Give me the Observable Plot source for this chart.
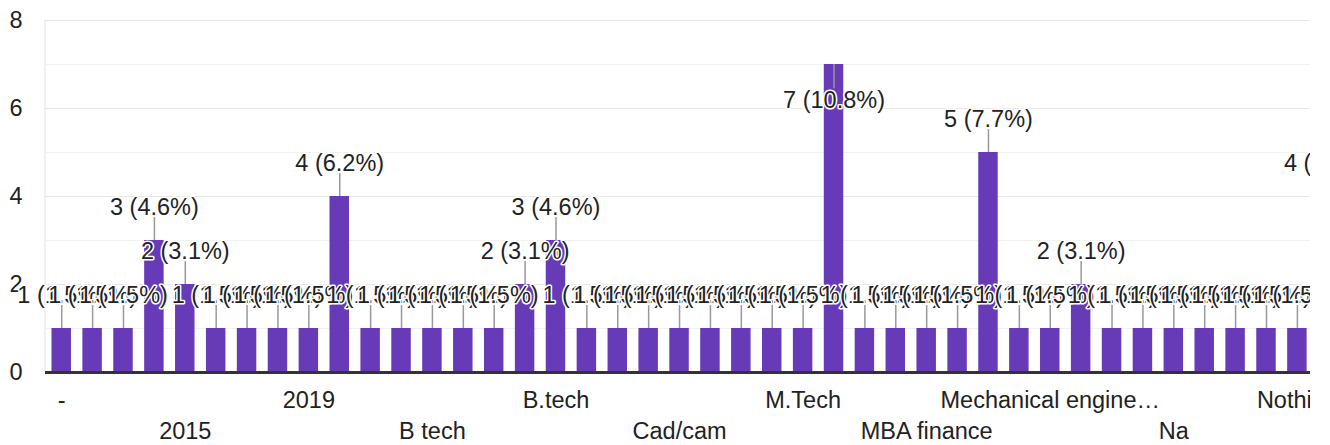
<!DOCTYPE html>
<html>
<head>
<meta charset="utf-8">
<script src="https://cdn.jsdelivr.net/npm/d3@7"></script>
<script src="https://cdn.jsdelivr.net/npm/@observablehq/plot@0.6"></script>
<style>
  html, body { margin: 0; padding: 0; background: #fff; }
  #chart { width: 1330px; height: 445px; overflow: hidden; }
</style>
</head>
<body>
<div id="chart"></div>
<script>
// Response categories (sorted as in the chart) and their counts
const categories = [
  "-", ".", "1", "2014", "2015", "2016", "2017", "2018", "2019", "2020",
  "2021", "ANSYS", "B tech", "B.E", "B.E.", "B.Tech", "B.tech", "BE", "BE Mechanical", "Btech",
  "Cad/cam", "Catia", "Design", "Diploma", "M.Tech", "M.tech", "MBA", "MBA HR", "MBA finance", "ME",
  "Mechanical", "Mechanical design", "Mechanical engineering", "Mtech", "NA", "NIL", "Na", "Nil", "No", "None",
  "Nothing", "nil"
];
const counts = [
  1, 1, 1, 3, 2, 1, 1, 1, 1, 4,
  1, 1, 1, 1, 1, 2, 3, 1, 1, 1,
  1, 1, 1, 1, 1, 7, 1, 1, 1, 1,
  5, 1, 1, 2, 1, 1, 1, 1, 1, 1,
  1, 4
];

// Axis ticks
const xTicksRow1 = ["-", "2019", "B.tech", "M.Tech", "Mechanical engineering", "Nothing"];
const xTicksRow2 = ["2015", "B tech", "Cad/cam", "MBA finance", "Na"];
const truncatedNames = ["Mechanical engineering"];
const truncatedLabels = ["Mechanical engine\u2026"];
const yTicks = [0, 2, 4, 6, 8];
const gridMajor = [2, 4, 6, 8];
const gridMinor = [1, 3, 5, 7];
const yMax = 8;

const total = d3.sum(counts);
const data = categories.map((c, i) => ({
  category: c,
  count: counts[i],
  label: `${counts[i]} (${(counts[i] / total * 100).toFixed(1)}%)`,
  above: counts[i] < yMax - 1
}));

const fmt = d => {
  const k = truncatedNames.indexOf(d);
  return k >= 0 ? truncatedLabels[k] : d;
};

const FONT = 23.5;
const TEXT = "#222";

const leftLine = (index, scales, values, dimensions) =>
  d3.create("svg:line")
    .attr("x1", dimensions.marginLeft).attr("x2", dimensions.marginLeft)
    .attr("y1", scales.y(yMax)).attr("y2", scales.y(0))
    .attr("stroke", "#e6e6e6").attr("stroke-width", 1.2)
    .node();

const chart = Plot.plot({
  width: 1310,
  height: 445,
  marginTop: 20,
  marginBottom: 73,
  marginLeft: 45,
  marginRight: 0,
  style: {fontFamily: "Arial, 'Liberation Sans', sans-serif", fontSize: FONT + "px", background: "white", color: TEXT},
  x: {type: "band", domain: categories, range: [45, 1344], paddingInner: 0.37, paddingOuter: 0.21, label: null},
  y: {domain: [0, yMax], range: [372, 20], label: null},
  marks: [
    Plot.ruleY(gridMinor, {stroke: "#f2f2f2", strokeWidth: 1.2}),
    Plot.ruleY(gridMajor, {stroke: "#e8e8e8", strokeWidth: 1.2}),
    leftLine,
    Plot.axisY({ticks: yTicks, tickSize: 0, tickPadding: 23, fontSize: FONT, fill: TEXT, label: null}),
    Plot.axisX({ticks: xTicksRow1, tickSize: 0, tickPadding: 19, fontSize: FONT, fill: TEXT, tickFormat: fmt, label: null}),
    Plot.axisX({ticks: xTicksRow2, tickSize: 0, tickPadding: 50, fontSize: FONT, fill: TEXT, tickFormat: fmt, label: null}),
    Plot.barY(data, {x: "category", y: "count", fill: "#673ab7"}),
    Plot.ruleY([0], {stroke: "#333", strokeWidth: 3}),
    Plot.ruleX(data, {x: "category", y1: "count", y2: d => d.above ? d.count + 0.52 : d.count - 0.55, stroke: "#999", strokeWidth: 1.5}),
    Plot.text(data, {
      x: "category",
      y: d => d.above ? d.count + 0.75 : d.count - 0.82,
      text: "label",
      fontSize: FONT,
      fill: TEXT,
      stroke: "white",
      strokeWidth: 3
    })
  ]
});

document.getElementById("chart").appendChild(chart);
</script>
</body>
</html>
